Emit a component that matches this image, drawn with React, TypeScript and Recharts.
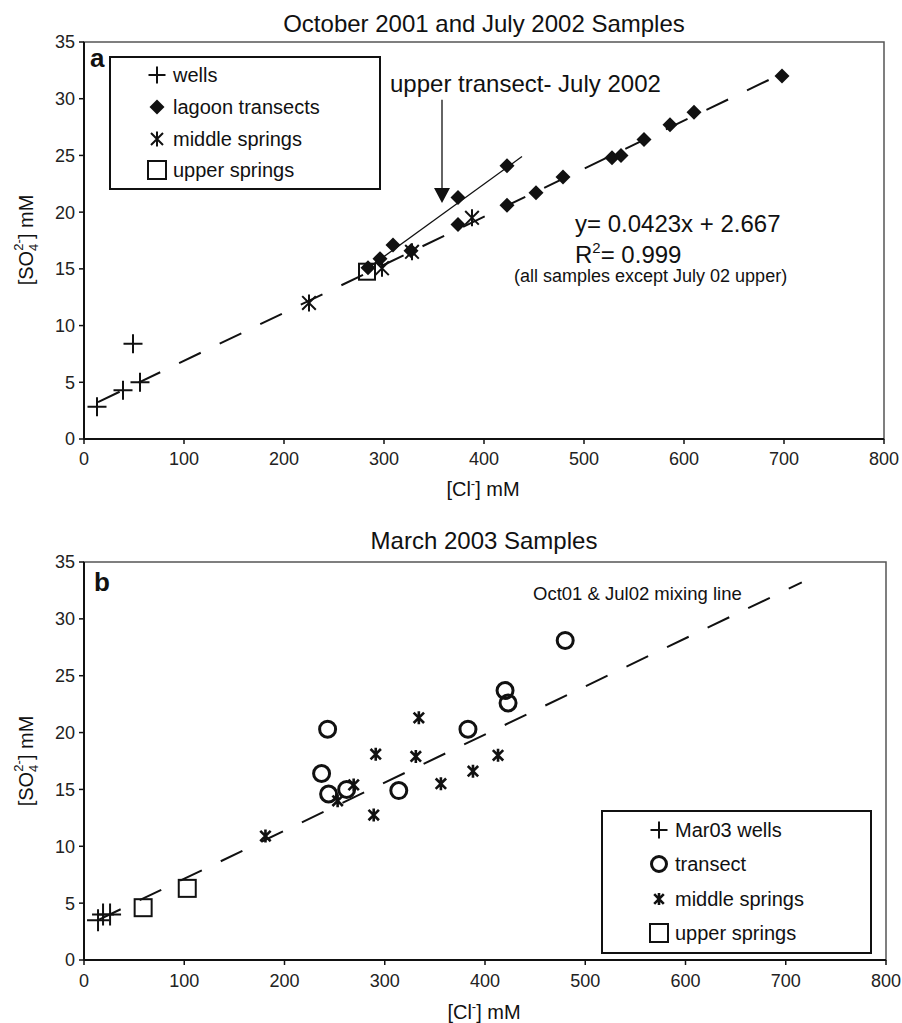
import React from 'react'
import {
  ScatterChart, Scatter, XAxis, YAxis, ReferenceLine, ReferenceArea, Legend,
} from 'recharts'

// ---- panel a: October 2001 and July 2002 ----
const wellsA = [
  { cl: 13, so4: 2.85 }, { cl: 39, so4: 4.3 }, { cl: 49, so4: 8.4 }, { cl: 56, so4: 5.0 },
]
const upperTransectA = [
  { cl: 284, so4: 15.1 }, { cl: 296, so4: 15.9 }, { cl: 309, so4: 17.1 },
  { cl: 374, so4: 21.3 }, { cl: 423, so4: 24.1 },
]
const lagoonA = [
  { cl: 327, so4: 16.6 }, { cl: 374, so4: 18.9 }, { cl: 423, so4: 20.6 }, { cl: 452, so4: 21.7 },
  { cl: 479, so4: 23.1 }, { cl: 528, so4: 24.8 }, { cl: 537, so4: 25.0 }, { cl: 560, so4: 26.4 },
  { cl: 586, so4: 27.7 }, { cl: 610, so4: 28.8 }, { cl: 698, so4: 32.0 },
]
const middleA = [
  { cl: 225, so4: 12.0 }, { cl: 298, so4: 15.05 }, { cl: 328, so4: 16.5 }, { cl: 388, so4: 19.5 },
]
const upperSpringsA = [{ cl: 283, so4: 14.75 }]
const fitLineA = [{ cl: 14, so4: 3.25 }, { cl: 700, so4: 32.3 }]
const upperLineA = [{ cl: 283, so4: 15.0 }, { cl: 438, so4: 24.9 }]
const arrowShaftA = [{ cl: 358, so4: 29.9 }, { cl: 358, so4: 22.0 }]
const arrowTipA = [{ cl: 358, so4: 20.8 }]
const legendA = ['wells', 'lagoon transects', 'middle springs', 'upper springs']

// ---- panel b: March 2003 ----
const wellsB = [{ cl: 14, so4: 3.5 }, { cl: 19, so4: 4.0 }, { cl: 26, so4: 4.0 }]
const transectB = [
  { cl: 237, so4: 16.4 }, { cl: 243, so4: 20.3 }, { cl: 244, so4: 14.6 }, { cl: 262, so4: 15.0 },
  { cl: 314, so4: 14.9 }, { cl: 383, so4: 20.3 }, { cl: 420, so4: 23.7 }, { cl: 423, so4: 22.6 },
  { cl: 480, so4: 28.1 },
]
const middleB = [
  { cl: 181, so4: 10.9 }, { cl: 253, so4: 14.0 }, { cl: 269, so4: 15.4 }, { cl: 289, so4: 12.75 },
  { cl: 291, so4: 18.1 }, { cl: 331, so4: 17.9 }, { cl: 334, so4: 21.3 }, { cl: 356, so4: 15.5 },
  { cl: 388, so4: 16.6 }, { cl: 413, so4: 18.0 },
]
const upperSpringsB = [{ cl: 59, so4: 4.6 }, { cl: 103, so4: 6.3 }]
const mixLineB = [{ cl: 15, so4: 3.55 }, { cl: 716, so4: 33.2 }]
const legendB = ['Mar03 wells', 'transect', 'middle springs', 'upper springs']

const xTicks = [0, 100, 200, 300, 400, 500, 600, 700, 800]
const yTicks = [0, 5, 10, 15, 20, 25, 30, 35]

const FONT = '"Liberation Sans", Arial, Helvetica, sans-serif'
const INK = '#111'

// marker shapes
const plus = (s: number, w = 2) => (p: any) => (
  <path d={`M${p.cx - s / 2},${p.cy}h${s}M${p.cx},${p.cy - s / 2}v${s}`} stroke={INK} strokeWidth={w} fill="none" />
)
const diamond = (s: number) => (p: any) => (
  <polygon
    points={`${p.cx},${p.cy - s / 2} ${p.cx + s / 2},${p.cy} ${p.cx},${p.cy + s / 2} ${p.cx - s / 2},${p.cy}`}
    fill={INK}
  />
)
const star = (s: number, w = 2) => (p: any) => {
  const r = s / 2
  const d = r * 0.8
  return (
    <path
      d={`M${p.cx - d},${p.cy - d}L${p.cx + d},${p.cy + d}M${p.cx + d},${p.cy - d}L${p.cx - d},${p.cy + d}M${p.cx},${p.cy - r}v${s}`}
      stroke={INK} strokeWidth={w} fill="none"
    />
  )
}
const square = (s: number, w = 2) => (p: any) => (
  <rect x={p.cx - s / 2} y={p.cy - s / 2} width={s} height={s} stroke={INK} strokeWidth={w} fill="none" />
)
const circle = (s: number, w = 3) => (p: any) => (
  <circle cx={p.cx} cy={p.cy} r={s / 2} stroke={INK} strokeWidth={w} fill="none" />
)
const arrowHead = (p: any) => (
  <polygon points={`${p.cx},${p.cy} ${p.cx - 8},${p.cy - 15} ${p.cx + 8},${p.cy - 15}`} fill={INK} />
)

function LegendBox({ labels, shapes, width, height, rowH, symX, textX, top0 }: any) {
  return (
    <div style={{ width, height, border: `2px solid ${INK}`, boxSizing: 'border-box', position: 'relative', background: '#fff' }}>
      {labels.map((t: string, i: number) => (
        <div key={t} style={{ position: 'absolute', left: 0, top: top0 + i * rowH - 14, height: 28, width: '100%' }}>
          <svg width={textX} height={28} style={{ position: 'absolute', left: 0, top: 0 }}>
            {shapes[i]({ cx: symX, cy: 14 })}
          </svg>
          <span style={{ position: 'absolute', left: textX, top: 0, lineHeight: '28px', fontSize: 20, fontFamily: FONT, color: INK, whiteSpace: 'nowrap' }}>
            {t}
          </span>
        </div>
      ))}
    </div>
  )
}

const axisLine = { stroke: INK, strokeWidth: 2 }
const tickLine = { stroke: INK, strokeWidth: 1.5 }
const tickStyle = { fontSize: 18, fill: '#222', fontFamily: FONT }

export default function App() {
  return (
    <div style={{ position: 'absolute', left: 0, top: 0, width: 902, height: 1023, background: '#fff' }}>
      <div style={{ position: 'absolute', left: 0, top: 0 }}>
        <ScatterChart width={902} height={500} margin={{ top: 42, right: 18, left: 24, bottom: 31 }}>
          <XAxis type="number" dataKey="cl" domain={[0, 800]} ticks={xTicks} allowDataOverflow
            height={30} tickSize={5} tickMargin={8} axisLine={axisLine} tickLine={tickLine} tick={tickStyle} />
          <YAxis type="number" dataKey="so4" domain={[0, 35]} ticks={yTicks} allowDataOverflow
            width={60} tickSize={5} tickMargin={4} axisLine={axisLine} tickLine={tickLine} tick={tickStyle} />
          <ReferenceArea x1={0} x2={800} y1={0} y2={35} fill="none" stroke="#555" strokeWidth={1.5} />
          <ReferenceLine segment={[{ x: fitLineA[0].cl, y: fitLineA[0].so4 }, { x: fitLineA[1].cl, y: fitLineA[1].so4 }]}
            stroke={INK} strokeWidth={2} strokeDasharray="24 21" />
          <ReferenceLine segment={[{ x: upperLineA[0].cl, y: upperLineA[0].so4 }, { x: upperLineA[1].cl, y: upperLineA[1].so4 }]}
            stroke={INK} strokeWidth={1.3} />
          <ReferenceLine segment={[{ x: arrowShaftA[0].cl, y: arrowShaftA[0].so4 }, { x: arrowShaftA[1].cl, y: arrowShaftA[1].so4 }]}
            stroke={INK} strokeWidth={1.3} />
          <Scatter data={arrowTipA} shape={arrowHead} isAnimationActive={false} legendType="none" />
          <Scatter data={wellsA} shape={plus(19)} isAnimationActive={false} />
          <Scatter data={upperSpringsA} shape={square(16)} isAnimationActive={false} />
          <Scatter data={upperTransectA} shape={diamond(15)} isAnimationActive={false} />
          <Scatter data={lagoonA} shape={diamond(15)} isAnimationActive={false} />
          <Scatter data={middleA} shape={star(17)} isAnimationActive={false} />
          <Legend layout="vertical" align="center" verticalAlign="middle"
            wrapperStyle={{ left: 109, top: 56, width: 272, height: 134 }}
            content={() => (
              <LegendBox labels={legendA} shapes={[plus(17), diamond(15), star(15), square(18)]}
                width={272} height={134} rowH={31.8} symX={46} textX={62} top0={17} />
            )} />
        </ScatterChart>
      </div>

      <div style={{ position: 'absolute', left: 0, top: 500 }}>
        <ScatterChart width={902} height={523} margin={{ top: 62, right: 16, left: 24, bottom: 33 }}>
          <XAxis type="number" dataKey="cl" domain={[0, 800]} ticks={xTicks} allowDataOverflow
            height={30} tickSize={5} tickMargin={9} axisLine={axisLine} tickLine={tickLine} tick={tickStyle} />
          <YAxis type="number" dataKey="so4" domain={[0, 35]} ticks={yTicks} allowDataOverflow
            width={60} tickSize={5} tickMargin={4} axisLine={axisLine} tickLine={tickLine} tick={tickStyle} />
          <ReferenceArea x1={0} x2={800} y1={0} y2={35} fill="none" stroke="#555" strokeWidth={1.5} />
          <ReferenceLine segment={[{ x: mixLineB[0].cl, y: mixLineB[0].so4 }, { x: mixLineB[1].cl, y: mixLineB[1].so4 }]}
            stroke={INK} strokeWidth={2} strokeDasharray="24 21" />
          <Scatter data={wellsB} shape={plus(22)} isAnimationActive={false} />
          <Scatter data={upperSpringsB} shape={square(17)} isAnimationActive={false} />
          <Scatter data={transectB} shape={circle(16)} isAnimationActive={false} />
          <Scatter data={middleB} shape={star(13, 2.6)} isAnimationActive={false} />
          <Legend layout="vertical" align="center" verticalAlign="middle"
            wrapperStyle={{ left: 601, top: 310, width: 271, height: 144 }}
            content={() => (
              <LegendBox labels={legendB} shapes={[plus(17), circle(15, 3), star(12, 2.6), square(18)]}
                width={271} height={144} rowH={34.3} symX={56} textX={72} top0={18} />
            )} />
        </ScatterChart>
      </div>

      <svg width={902} height={1023} style={{ position: 'absolute', left: 0, top: 0, pointerEvents: 'none' }}
        fontFamily={FONT} fill={INK}>
        <text x={484} y={32} fontSize={24} textAnchor="middle">October 2001 and July 2002 Samples</text>
        <text x={90} y={67} fontSize={26} fontWeight="bold">a</text>
        <text x={390} y={92} fontSize={24}>upper transect- July 2002</text>
        <text x={575} y={232} fontSize={24}>y= 0.0423x + 2.667</text>
        <text x={575} y={263} fontSize={24}>R<tspan fontSize={15} dy={-10}>2</tspan><tspan dy={10}>= 0.999</tspan></text>
        <text x={514} y={282} fontSize={18}>(all samples except July 02 upper)</text>
        <text x={483} y={496} fontSize={20} textAnchor="middle">[Cl<tspan fontSize={13} dy={-8}>-</tspan><tspan dy={8}>] mM</tspan></text>
        <text transform="translate(33,240) rotate(-90)" fontSize={20} textAnchor="middle">
          [SO<tspan fontSize={13} dy={5}>4</tspan><tspan fontSize={13} dx={-7} dy={-15}>2-</tspan><tspan dy={10}>] mM</tspan>
        </text>

        <text x={484} y={549} fontSize={24} textAnchor="middle">March 2003 Samples</text>
        <text x={94} y={591} fontSize={26} fontWeight="bold">b</text>
        <text x={533} y={600} fontSize={18.5}>Oct01 &amp; Jul02 mixing line</text>
        <text x={484} y={1019} fontSize={20} textAnchor="middle">[Cl<tspan fontSize={13} dy={-8}>-</tspan><tspan dy={8}>] mM</tspan></text>
        <text transform="translate(33,761) rotate(-90)" fontSize={20} textAnchor="middle">
          [SO<tspan fontSize={13} dy={5}>4</tspan><tspan fontSize={13} dx={-7} dy={-15}>2-</tspan><tspan dy={10}>] mM</tspan>
        </text>
      </svg>
    </div>
  )
}
